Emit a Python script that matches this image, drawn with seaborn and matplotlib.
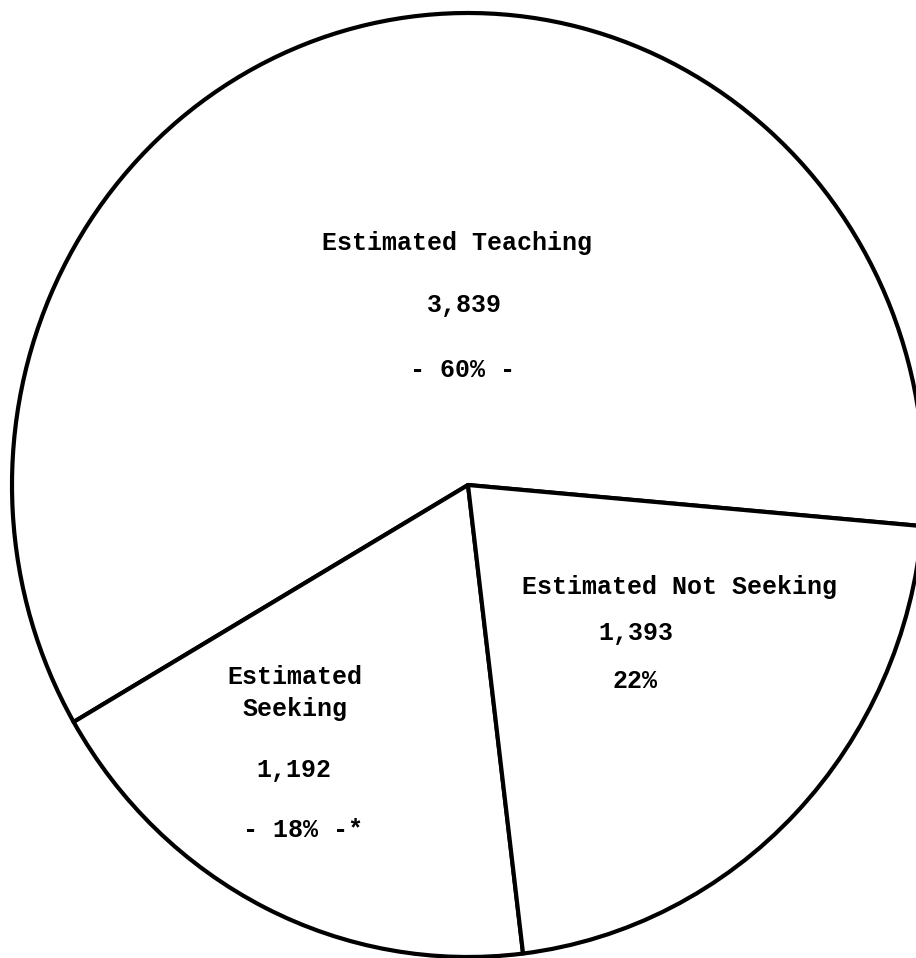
import matplotlib
matplotlib.use("Agg")
import matplotlib.pyplot as plt
import seaborn as sns

# Estimated counts by status
categories = ["Estimated Teaching", "Estimated Seeking", "Estimated Not Seeking"]
counts = [3839, 1192, 1393]
count_labels = ["3,839", "1,192", "1,393"]
percent_labels = ["- 60% -", "- 18% -*", "22%"]

sns.set_theme(style="white")
plt.rcParams["font.family"] = ["Liberation Mono", "DejaVu Sans Mono"]

W, H = 916, 958
fig = plt.figure(figsize=(W / 100, H / 100), dpi=100)
ax = fig.add_axes([0, 0, 1, 1])

ax.pie(
    counts,
    startangle=-5,
    counterclock=True,
    colors=["white"] * len(counts),
    wedgeprops=dict(edgecolor="black", linewidth=3.0, joinstyle="round"),
    radius=1.0,
)

# slightly wider-than-tall ellipse, centred a bit right of middle
cx, cy = 468, 485          # centre in pixels from top-left
rx, ry = 456, 472          # pixel radii
ax.set_aspect("auto")
ax.set_xlim(-cx / rx, (W - cx) / rx)
ax.set_ylim(-(H - cy) / ry, cy / ry)
ax.axis("off")

txt = dict(ha="center", va="center", fontsize=18, fontweight="bold",
           color="black", transform=fig.transFigure)

def place(x, y, s):
    fig.text(x / W, 1 - y / H, s, **txt)

# Teaching wedge
place(457, 243, categories[0])
place(464, 305, count_labels[0])
place(462, 370, percent_labels[0])

# Not seeking wedge
place(680, 587, categories[2])
place(636, 633, count_labels[2])
place(635, 681, percent_labels[2])

# Seeking wedge
place(295, 677, "Estimated")
place(295, 709, "Seeking")
place(294, 770, count_labels[1])
place(303, 830, percent_labels[1])

fig.savefig("out.png", dpi=100, facecolor="white")
